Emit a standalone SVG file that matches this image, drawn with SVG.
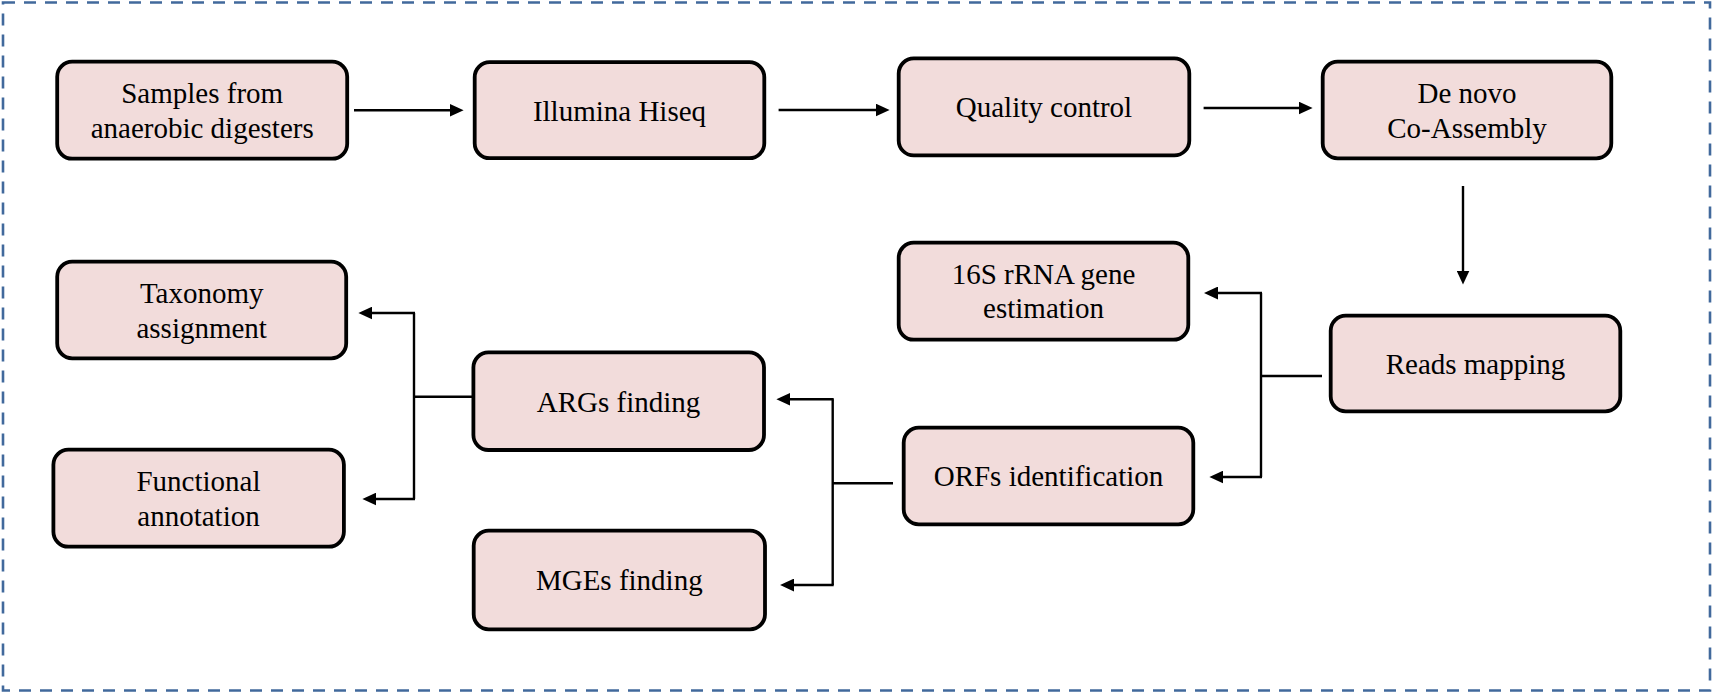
<svg xmlns="http://www.w3.org/2000/svg" width="1712" height="695" viewBox="0 0 1712 695">
<style>
.box{fill:#F2DCDB;stroke:#000;stroke-width:3.8}
.lbl{font-family:"Liberation Serif","Times New Roman",serif;font-size:29px;fill:#000;text-anchor:middle}
.ln{fill:none;stroke:#000;stroke-width:2.4}
.arr{marker-end:url(#ah)}
</style>
<defs>
<marker id="ah" markerUnits="userSpaceOnUse" markerWidth="14" markerHeight="13" viewBox="0 0 13 12" refX="5" refY="6" orient="auto">
<path d="M0,0 L13,6 L0,12 z" fill="#000"/>
</marker>
</defs>
<rect x="3" y="2.5" width="1707" height="688" fill="#fff" stroke="#41699C" stroke-width="2.6" stroke-dasharray="12 9"/>
<g id="connectors">
<path class="ln arr" d="M354 110.3 H455"/>
<path class="ln arr" d="M778.6 110 H881"/>
<path class="ln arr" d="M1203.6 108 H1304"/>
<path class="ln arr" d="M1463 186 V276"/>
<path class="ln" d="M1322 376 H1261"/>
<path class="ln" d="M1261 293 V477"/>
<path class="ln arr" d="M1262 293 H1212.6"/>
<path class="ln arr" d="M1262 477 H1218"/>
<path class="ln" d="M893 483.3 H832.7"/>
<path class="ln" d="M832.7 399.3 V585"/>
<path class="ln arr" d="M833.7 399.3 H785"/>
<path class="ln arr" d="M833.7 585 H788.7"/>
<path class="ln" d="M472 396.7 H414"/>
<path class="ln" d="M414 313 V499"/>
<path class="ln arr" d="M415 313 H367"/>
<path class="ln arr" d="M415 499 H371"/>
</g>
<g id="n1"><rect class="box" x="57.2" y="61.7" width="290" height="97" rx="15"/><text class="lbl" x="202.2" y="102.7">Samples from</text><text class="lbl" x="202.2" y="137.7">anaerobic digesters</text></g>
<g id="n2"><rect class="box" x="474.7" y="62.2" width="289.6" height="96" rx="15"/><text class="lbl" x="619.5" y="120.7">Illumina Hiseq</text></g>
<g id="n3"><rect class="box" x="898.7" y="58.4" width="290.6" height="97" rx="15"/><text class="lbl" x="1044" y="117.3">Quality control</text></g>
<g id="n4"><rect class="box" x="1322.7" y="61.7" width="288.6" height="96.6" rx="15"/><text class="lbl" x="1467" y="102.5">De novo</text><text class="lbl" x="1467" y="137.5">Co-Assembly</text></g>
<g id="n5"><rect class="box" x="898.7" y="242.7" width="289.6" height="97" rx="15"/><text class="lbl" x="1043.5" y="283.5">16S rRNA gene</text><text class="lbl" x="1043.5" y="318">estimation</text></g>
<g id="n6"><rect class="box" x="1330.7" y="315.7" width="289.6" height="95.6" rx="15"/><text class="lbl" x="1475.5" y="374">Reads mapping</text></g>
<g id="n7"><rect class="box" x="903.7" y="427.7" width="289.6" height="96.6" rx="15"/><text class="lbl" x="1048.5" y="486.3">ORFs identification</text></g>
<g id="n8"><rect class="box" x="473.4" y="352.4" width="290.6" height="97.6" rx="15"/><text class="lbl" x="618.5" y="411.7">ARGs finding</text></g>
<g id="n9"><rect class="box" x="473.7" y="530.7" width="291.3" height="98.6" rx="15"/><text class="lbl" x="619.3" y="590.3">MGEs finding</text></g>
<g id="n10"><rect class="box" x="57.2" y="261.7" width="289" height="96.6" rx="15"/><text class="lbl" x="201.7" y="303">Taxonomy</text><text class="lbl" x="201.7" y="338">assignment</text></g>
<g id="n11"><rect class="box" x="53.4" y="449.7" width="290.5" height="97" rx="15"/><text class="lbl" x="198.5" y="491.3">Functional</text><text class="lbl" x="198.5" y="526.3">annotation</text></g>
</svg>
